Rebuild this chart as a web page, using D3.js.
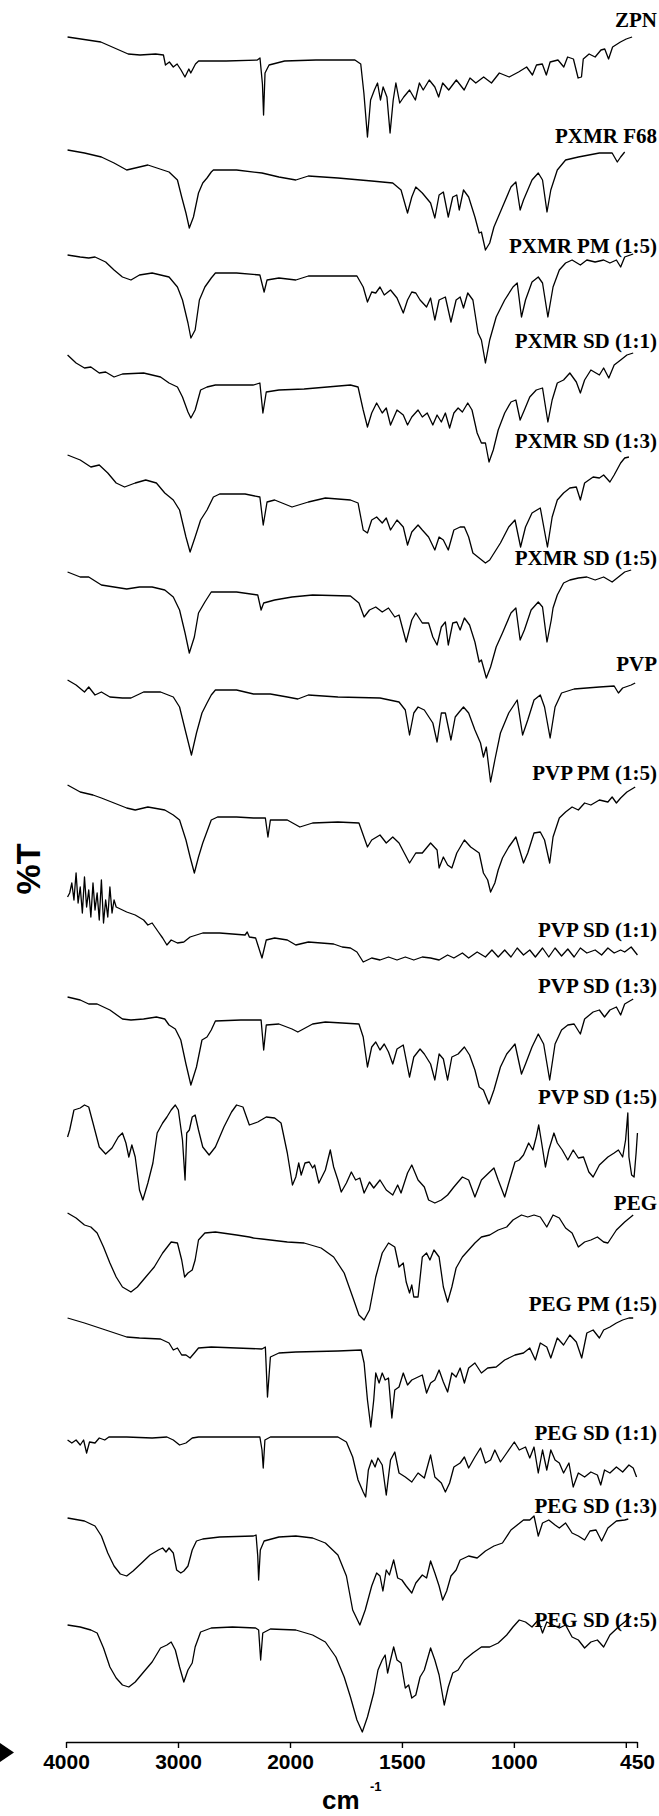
<!DOCTYPE html>
<html>
<head>
<meta charset="utf-8">
<script src="https://cdn.jsdelivr.net/npm/d3@7"></script>
<style>
  body { margin: 0; background: #fff; }
  svg { display: block; }
</style>
</head>
<body>
<script>
// FTIR spectra, stacked. each series: [wavenumber (cm-1), relative %T]
var zpn = [[3986,0],[3689,-5],[3445,-17],[3339,-18],[3200,-17],[3130,-18],[3112,-28],[3077,-25],[3042,-30],[3008,-27],[2973,-33],[2938,-40],[2903,-32],[2886,-36],[2844,-27],[2816,-24],[2571,-24],[2292,-23],[2268,-21],[2246,-47],[2236,-78],[2223,-36],[2187,-28],[2048,-24],[1884,-23],[1710,-23],[1684,-27],[1670,-56],[1654,-100],[1640,-63],[1623,-53],[1609,-46],[1596,-63],[1584,-50],[1567,-60],[1553,-96],[1539,-63],[1527,-46],[1510,-66],[1492,-60],[1466,-53],[1440,-63],[1422,-46],[1405,-53],[1378,-43],[1353,-50],[1336,-60],[1318,-46],[1291,-53],[1257,-43],[1222,-53],[1196,-41],[1170,-46],[1135,-40],[1100,-46],[1065,-36],[1021,-40],[979,-35],[943,-30],[917,-38],[899,-28],[873,-27],[855,-38],[838,-25],[803,-23],[777,-30],[760,-20],[734,-22],[713,-41],[698,-40],[690,-22],[664,-17],[637,-20],[611,-13],[594,-12],[577,-22],[559,-10],[524,-5],[498,-2],[472,0]];

var pxmrF68 = [[3986,0],[3835,-3],[3684,-7],[3571,-13],[3458,-20],[3382,-18],[3269,-15],[3080,-22],[3005,-30],[2967,-47],[2929,-63],[2899,-78],[2862,-67],[2817,-43],[2779,-33],[2741,-28],[2703,-22],[2684,-20],[2477,-20],[2250,-23],[2099,-27],[1974,-30],[1918,-26],[1786,-28],[1635,-31],[1541,-33],[1504,-40],[1475,-63],[1456,-47],[1438,-37],[1409,-43],[1372,-53],[1353,-68],[1334,-45],[1315,-42],[1293,-67],[1273,-47],[1255,-45],[1244,-60],[1225,-40],[1202,-47],[1174,-67],[1155,-83],[1145,-82],[1127,-100],[1108,-93],[1089,-77],[1051,-57],[1013,-37],[991,-32],[972,-60],[957,-50],[919,-30],[891,-23],[872,-30],[852,-62],[835,-40],[806,-20],[769,-10],[712,-7],[618,-3],[561,-3],[538,-12],[523,-7],[505,-2]];

var pxmrPM15 = [[3986,0],[3873,-2],[3797,-3],[3741,-2],[3646,-7],[3571,-15],[3496,-22],[3420,-25],[3344,-20],[3231,-18],[3080,-22],[3005,-32],[2960,-45],[2911,-68],[2885,-83],[2847,-75],[2809,-45],[2760,-32],[2703,-23],[2666,-18],[2477,-18],[2269,-20],[2231,-37],[2205,-25],[2099,-23],[1974,-25],[1918,-21],[1701,-21],[1673,-32],[1654,-47],[1635,-37],[1617,-38],[1598,-32],[1579,-40],[1551,-35],[1522,-43],[1494,-58],[1475,-45],[1456,-37],[1438,-38],[1419,-45],[1390,-52],[1372,-43],[1353,-65],[1334,-45],[1306,-42],[1281,-67],[1258,-45],[1240,-42],[1225,-53],[1206,-38],[1183,-45],[1160,-78],[1145,-85],[1127,-108],[1108,-85],[1079,-62],[1041,-45],[1004,-32],[985,-28],[966,-62],[948,-45],[919,-27],[891,-22],[872,-28],[848,-62],[825,-32],[797,-15],[769,-8],[740,-5],[703,-10],[674,-5],[637,-7],[599,-5],[571,-8],[542,-5],[523,-12],[505,-2],[467,1]];

var pxmrSD11 = [[3986,0],[3910,-8],[3835,-13],[3778,-12],[3703,-18],[3646,-17],[3571,-22],[3496,-19],[3307,-18],[3156,-22],[3080,-28],[3005,-32],[2960,-42],[2911,-57],[2885,-63],[2847,-55],[2798,-35],[2741,-32],[2666,-30],[2326,-30],[2269,-28],[2242,-58],[2212,-37],[2099,-35],[1937,-34],[1730,-30],[1696,-32],[1673,-55],[1654,-72],[1635,-58],[1613,-48],[1588,-58],[1570,-53],[1551,-70],[1522,-55],[1494,-60],[1475,-70],[1456,-62],[1428,-55],[1409,-62],[1387,-58],[1362,-70],[1343,-60],[1324,-67],[1306,-58],[1287,-73],[1268,-58],[1249,-53],[1230,-57],[1206,-48],[1187,-55],[1164,-78],[1145,-88],[1127,-88],[1111,-107],[1092,-95],[1070,-75],[1041,-58],[1013,-47],[991,-45],[972,-65],[953,-55],[929,-42],[900,-35],[872,-33],[848,-67],[829,-45],[806,-28],[778,-25],[750,-18],[721,-27],[703,-38],[684,-25],[656,-15],[618,-20],[599,-13],[576,-23],[552,-10],[523,-5],[495,0],[467,2]];

var pxmrSD13 = [[3986,0],[3873,-5],[3778,-12],[3703,-10],[3627,-18],[3552,-28],[3477,-32],[3382,-28],[3288,-25],[3193,-28],[3118,-38],[3042,-45],[2986,-55],[2929,-82],[2892,-97],[2847,-82],[2798,-65],[2741,-55],[2684,-42],[2628,-39],[2401,-39],[2269,-42],[2239,-70],[2205,-47],[2137,-45],[1991,-52],[1918,-47],[1842,-43],[1730,-45],[1696,-48],[1673,-75],[1654,-78],[1635,-65],[1613,-62],[1588,-68],[1570,-63],[1551,-75],[1522,-65],[1494,-72],[1475,-90],[1456,-77],[1428,-70],[1409,-75],[1381,-82],[1353,-95],[1334,-82],[1315,-85],[1293,-95],[1268,-75],[1240,-72],[1221,-72],[1202,-82],[1183,-98],[1155,-103],[1127,-108],[1108,-105],[1060,-88],[1023,-72],[995,-65],[970,-92],[948,-72],[919,-58],[882,-53],[850,-92],[829,-62],[806,-45],[778,-38],[750,-33],[721,-32],[703,-45],[684,-28],[646,-22],[618,-23],[599,-20],[571,-27],[552,-20],[523,-8],[505,-3],[486,-2]];

var pxmrSD15 = [[3986,0],[3873,-5],[3797,-5],[3684,-13],[3571,-15],[3458,-17],[3344,-15],[3231,-15],[3118,-18],[3042,-25],[2986,-38],[2937,-61],[2899,-81],[2854,-65],[2817,-41],[2760,-30],[2703,-20],[2477,-20],[2288,-23],[2258,-38],[2235,-31],[2137,-28],[1991,-25],[1899,-23],[1730,-24],[1692,-31],[1669,-45],[1645,-38],[1617,-35],[1588,-40],[1560,-36],[1532,-45],[1513,-43],[1481,-70],[1456,-48],[1438,-41],[1409,-51],[1381,-51],[1362,-65],[1343,-73],[1324,-55],[1306,-50],[1293,-73],[1273,-51],[1255,-50],[1240,-58],[1221,-46],[1198,-53],[1174,-70],[1155,-90],[1145,-88],[1123,-106],[1104,-95],[1079,-75],[1051,-61],[1013,-41],[991,-36],[972,-68],[953,-58],[923,-38],[891,-30],[872,-35],[852,-70],[833,-48],[825,-36],[806,-23],[778,-11],[750,-8],[712,-6],[674,-5],[637,-8],[599,-5],[561,-10],[533,-5],[505,0],[476,2]];

var pvp = [[3986,0],[3910,-5],[3835,-12],[3797,-7],[3741,-15],[3684,-12],[3608,-17],[3496,-18],[3420,-18],[3307,-12],[3156,-12],[3042,-17],[2986,-27],[2929,-53],[2880,-75],[2835,-53],[2786,-33],[2741,-23],[2703,-15],[2666,-10],[2477,-10],[2326,-14],[2175,-14],[2024,-17],[1965,-19],[1918,-15],[1786,-17],[1598,-18],[1513,-22],[1485,-30],[1466,-55],[1447,-33],[1428,-27],[1400,-30],[1362,-43],[1343,-62],[1324,-33],[1306,-33],[1281,-60],[1262,-37],[1244,-32],[1225,-27],[1202,-33],[1174,-50],[1149,-63],[1136,-77],[1123,-67],[1104,-102],[1085,-80],[1060,-53],[1023,-33],[985,-20],[961,-55],[938,-40],[910,-20],[882,-15],[863,-27],[838,-58],[816,-27],[787,-13],[731,-9],[618,-7],[552,-6],[533,-13],[514,-8],[476,-5],[458,-3]];

var pvpPM15 = [[3986,0],[3873,-7],[3759,-10],[3684,-13],[3571,-18],[3458,-23],[3382,-25],[3269,-22],[3118,-25],[3042,-30],[2986,-35],[2929,-55],[2892,-72],[2854,-88],[2817,-72],[2779,-58],[2703,-35],[2647,-32],[2477,-32],[2326,-33],[2220,-33],[2197,-52],[2175,-35],[2024,-35],[1956,-42],[1899,-38],[1786,-37],[1692,-38],[1654,-62],[1635,-55],[1598,-50],[1570,-58],[1541,-52],[1513,-58],[1466,-78],[1438,-68],[1409,-68],[1372,-58],[1343,-65],[1334,-83],[1315,-72],[1296,-80],[1277,-83],[1255,-68],[1221,-55],[1193,-62],[1155,-68],[1136,-88],[1117,-95],[1104,-107],[1085,-98],[1070,-85],[1051,-73],[1023,-62],[991,-52],[957,-78],[938,-68],[910,-48],[882,-47],[863,-55],[840,-78],[825,-52],[797,-33],[769,-27],[740,-22],[712,-25],[684,-18],[656,-20],[618,-15],[580,-17],[561,-12],[542,-18],[523,-13],[495,-7],[458,-2]];

var pvpSD11 = [[3986,0],[3967,4],[3948,14],[3929,-3],[3910,24],[3892,-6],[3873,10],[3854,-16],[3835,20],[3816,-10],[3797,7],[3778,-20],[3759,14],[3741,-13],[3722,4],[3703,-23],[3684,17],[3665,-26],[3646,-3],[3627,-20],[3608,10],[3589,-16],[3571,-3],[3552,-10],[3533,-11],[3458,-15],[3382,-18],[3307,-23],[3269,-28],[3231,-26],[3175,-35],[3137,-41],[3099,-48],[3061,-43],[3005,-46],[2948,-45],[2892,-40],[2779,-36],[2628,-36],[2401,-38],[2382,-35],[2363,-40],[2307,-41],[2250,-61],[2212,-43],[2137,-41],[2024,-43],[1974,-48],[1918,-45],[1861,-46],[1805,-47],[1767,-50],[1730,-51],[1701,-55],[1673,-65],[1635,-61],[1598,-63],[1560,-60],[1522,-63],[1485,-60],[1447,-63],[1409,-60],[1372,-61],[1334,-63],[1296,-58],[1268,-61],[1230,-56],[1202,-61],[1164,-55],[1127,-60],[1098,-53],[1070,-60],[1041,-53],[1013,-60],[985,-51],[957,-58],[929,-53],[904,-60],[872,-51],[844,-60],[816,-51],[787,-59],[759,-52],[731,-60],[703,-51],[674,-56],[637,-53],[608,-58],[580,-51],[552,-56],[523,-53],[505,-55],[476,-50],[448,-58]];

var pvpSD13 = [[3986,0],[3873,-3],[3797,-7],[3722,-7],[3608,-13],[3496,-22],[3420,-23],[3307,-22],[3193,-20],[3118,-22],[3080,-28],[3024,-32],[2975,-43],[2929,-67],[2885,-88],[2835,-70],[2786,-43],[2741,-40],[2703,-33],[2666,-24],[2439,-23],[2258,-23],[2235,-53],[2212,-28],[2099,-27],[1991,-32],[1965,-35],[1899,-27],[1842,-25],[1692,-27],[1673,-40],[1654,-70],[1635,-50],[1617,-45],[1598,-53],[1579,-47],[1560,-55],[1541,-67],[1522,-52],[1494,-48],[1466,-80],[1447,-60],[1419,-52],[1400,-57],[1372,-67],[1353,-83],[1334,-57],[1315,-62],[1296,-83],[1277,-60],[1249,-57],[1221,-50],[1198,-58],[1174,-73],[1155,-90],[1136,-93],[1111,-107],[1089,-93],[1060,-70],[1032,-57],[995,-47],[966,-77],[948,-67],[919,-50],[891,-37],[867,-47],[840,-83],[816,-47],[787,-33],[759,-28],[731,-27],[703,-37],[684,-22],[646,-15],[618,-13],[595,-20],[571,-13],[542,-10],[523,-18],[505,-7],[467,-2]];

var pvpSD15 = [[3986,0],[3967,7],[3929,27],[3873,29],[3835,32],[3797,30],[3759,14],[3703,-10],[3646,-17],[3589,-11],[3533,0],[3496,4],[3465,-6],[3439,-20],[3412,-8],[3382,-20],[3344,-53],[3314,-63],[3269,-46],[3224,-26],[3186,4],[3137,14],[3099,20],[3061,27],[3024,32],[2997,27],[2960,-3],[2937,-43],[2922,4],[2899,7],[2873,20],[2847,22],[2817,7],[2779,-10],[2722,-18],[2666,-10],[2590,10],[2522,25],[2477,32],[2420,30],[2363,12],[2288,15],[2212,20],[2137,19],[2080,14],[2024,-16],[1989,-48],[1974,-40],[1961,-26],[1950,-38],[1933,-26],[1914,-25],[1899,-31],[1890,-28],[1871,-46],[1842,-33],[1820,-13],[1805,-30],[1786,-43],[1771,-55],[1748,-46],[1726,-35],[1707,-43],[1688,-41],[1669,-56],[1645,-45],[1626,-51],[1598,-43],[1570,-53],[1541,-58],[1519,-48],[1504,-56],[1475,-36],[1456,-28],[1428,-43],[1400,-50],[1381,-63],[1353,-66],[1324,-63],[1296,-58],[1268,-50],[1230,-40],[1202,-43],[1174,-60],[1145,-43],[1108,-35],[1089,-31],[1070,-43],[1041,-60],[1023,-46],[995,-25],[976,-23],[957,-18],[934,-6],[915,-13],[900,0],[889,12],[878,-3],[859,-30],[844,-13],[821,4],[806,-6],[784,-13],[759,-23],[735,-13],[712,-21],[689,-20],[665,-35],[646,-40],[618,-28],[580,-20],[552,-16],[533,-13],[514,-20],[501,-3],[491,24],[486,-20],[474,-38],[463,-40],[454,-16],[448,4]];

var peg = [[3986,0],[3910,-5],[3835,-12],[3778,-14],[3722,-20],[3665,-34],[3608,-50],[3552,-64],[3496,-74],[3420,-79],[3363,-74],[3288,-64],[3212,-54],[3137,-40],[3061,-29],[3005,-30],[2967,-47],[2941,-64],[2911,-60],[2873,-57],[2847,-47],[2817,-27],[2760,-20],[2666,-19],[2477,-22],[2363,-24],[2326,-25],[2250,-26],[2024,-29],[1937,-30],[1861,-35],[1805,-44],[1758,-60],[1720,-84],[1692,-102],[1669,-107],[1645,-97],[1617,-64],[1588,-40],[1560,-30],[1532,-34],[1513,-54],[1494,-50],[1481,-69],[1466,-80],[1456,-72],[1447,-84],[1428,-84],[1409,-44],[1390,-40],[1375,-47],[1357,-37],[1334,-44],[1315,-74],[1296,-89],[1277,-74],[1258,-55],[1230,-44],[1202,-37],[1174,-30],[1145,-24],[1108,-22],[1070,-17],[1032,-14],[1004,-7],[966,-2],[938,-4],[910,-2],[882,-4],[853,-14],[825,-2],[797,-5],[769,-15],[740,-20],[712,-34],[684,-29],[656,-27],[627,-24],[599,-29],[580,-30],[542,-17],[505,-9],[467,-2]];

var pegPM15 = [[3986,0],[3835,-5],[3646,-12],[3458,-19],[3344,-20],[3156,-21],[3080,-25],[3042,-32],[3005,-30],[2967,-37],[2929,-37],[2892,-40],[2854,-35],[2817,-30],[2703,-29],[2477,-30],[2250,-31],[2220,-29],[2201,-79],[2175,-39],[2099,-35],[1974,-34],[1786,-33],[1682,-32],[1669,-45],[1654,-82],[1639,-109],[1626,-82],[1617,-55],[1602,-65],[1588,-55],[1575,-62],[1560,-60],[1545,-100],[1532,-72],[1513,-69],[1494,-55],[1475,-67],[1456,-62],[1428,-59],[1409,-57],[1390,-75],[1372,-65],[1353,-62],[1334,-52],[1315,-64],[1296,-74],[1277,-55],[1258,-59],[1240,-50],[1221,-65],[1202,-50],[1174,-45],[1145,-55],[1117,-50],[1079,-49],[1041,-42],[995,-37],[957,-35],[929,-30],[904,-42],[882,-25],[853,-29],[835,-40],[806,-20],[778,-27],[750,-17],[721,-24],[697,-40],[674,-15],[646,-12],[618,-20],[599,-12],[571,-9],[542,-5],[514,-2],[486,0],[467,0]];

var pegSD11 = [[3986,0],[3948,-3],[3910,0],[3873,-5],[3843,0],[3816,-13],[3790,-2],[3741,-3],[3703,2],[3654,0],[3617,3],[3458,3],[3231,2],[3099,3],[3042,0],[2986,-5],[2929,-3],[2873,2],[2817,3],[2514,3],[2269,3],[2250,-10],[2239,-28],[2224,0],[2175,3],[1974,3],[1786,3],[1748,-2],[1720,-17],[1696,-40],[1673,-52],[1662,-57],[1650,-30],[1635,-20],[1620,-27],[1607,-18],[1588,-25],[1570,-55],[1551,-20],[1532,-12],[1513,-33],[1485,-37],[1456,-42],[1428,-33],[1400,-38],[1372,-15],[1353,-37],[1324,-43],[1306,-52],[1287,-43],[1268,-27],[1240,-23],[1221,-17],[1202,-28],[1174,-17],[1149,-8],[1127,-23],[1104,-20],[1085,-10],[1060,-22],[1032,-13],[998,-2],[976,-10],[948,-7],[929,-18],[910,-7],[891,-33],[872,-10],[853,-30],[835,-10],[816,-20],[797,-23],[778,-33],[754,-23],[735,-47],[712,-33],[684,-37],[656,-32],[627,-35],[612,-45],[595,-30],[571,-33],[542,-27],[514,-32],[486,-25],[467,-28],[452,-37]];

var pegSD13 = [[3986,0],[3835,-3],[3741,-8],[3684,-18],[3627,-35],[3571,-48],[3515,-56],[3458,-58],[3401,-53],[3325,-45],[3250,-37],[3175,-32],[3137,-30],[3107,-34],[3080,-30],[3042,-35],[3012,-52],[2975,-55],[2948,-53],[2911,-48],[2873,-32],[2835,-23],[2779,-21],[2628,-19],[2326,-18],[2303,-17],[2288,-38],[2280,-62],[2265,-32],[2231,-23],[2099,-19],[1974,-18],[1899,-20],[1842,-25],[1786,-37],[1748,-58],[1720,-92],[1688,-107],[1664,-92],[1635,-68],[1613,-55],[1598,-58],[1585,-73],[1570,-52],[1556,-57],[1537,-42],[1519,-60],[1500,-62],[1481,-68],[1456,-75],[1438,-65],[1409,-57],[1390,-60],[1372,-43],[1353,-55],[1334,-68],[1318,-82],[1300,-73],[1281,-58],[1258,-52],[1240,-42],[1202,-38],[1164,-40],[1127,-33],[1089,-28],[1051,-25],[1013,-12],[985,-7],[957,-2],[929,-2],[910,2],[891,-18],[872,-5],[844,-2],[816,-7],[797,-10],[769,-5],[740,-15],[712,-18],[684,-22],[660,-13],[633,-12],[608,-23],[580,-10],[542,-3],[505,-2],[489,-1]];

var pegSD15 = [[3986,0],[3873,-2],[3778,-5],[3722,-8],[3665,-23],[3608,-42],[3552,-53],[3496,-60],[3439,-62],[3382,-57],[3307,-47],[3231,-37],[3156,-23],[3099,-20],[3061,-17],[3024,-25],[2986,-42],[2948,-57],[2911,-45],[2873,-38],[2847,-22],[2798,-7],[2703,-3],[2514,-2],[2307,-3],[2280,-5],[2262,-35],[2243,-8],[2175,-4],[1974,-5],[1899,-10],[1842,-17],[1795,-32],[1758,-52],[1730,-72],[1701,-95],[1677,-107],[1654,-92],[1626,-68],[1607,-45],[1588,-35],[1575,-30],[1564,-48],[1551,-35],[1537,-22],[1522,-35],[1504,-38],[1485,-63],[1470,-60],[1456,-73],[1438,-70],[1419,-52],[1400,-45],[1372,-23],[1353,-35],[1334,-50],[1311,-80],[1293,-62],[1273,-48],[1249,-45],[1221,-35],[1183,-28],[1145,-22],[1108,-22],[1070,-18],[1032,-10],[1004,-2],[976,5],[948,3],[919,-2],[891,5],[872,-8],[853,3],[825,0],[797,-3],[769,0],[740,-12],[712,-15],[684,-23],[656,-17],[627,-15],[599,-22],[571,-10],[533,-2],[505,3],[476,9]];

var names = ["ZPN", "PXMR F68", "PXMR PM (1:5)", "PXMR SD (1:1)", "PXMR SD (1:3)", "PXMR SD (1:5)",
             "PVP", "PVP PM (1:5)", "PVP SD (1:1)", "PVP SD (1:3)", "PVP SD (1:5)",
             "PEG", "PEG PM (1:5)", "PEG SD (1:1)", "PEG SD (1:3)", "PEG SD (1:5)"];
var series = [zpn, pxmrF68, pxmrPM15, pxmrSD11, pxmrSD13, pxmrSD15,
              pvp, pvpPM15, pvpSD11, pvpSD13, pvpSD15,
              peg, pegPM15, pegSD11, pegSD13, pegSD15];
// vertical stacking offset of each trace (arbitrary %T units)
var offsets = [1705, 1592, 1487, 1387, 1287, 1170, 1062, 957, 845, 745, 605, 529, 424, 302, 224, 117];
// label nudges (px) relative to the trace start
var labelDy = [-10, -7, -2, -7, -7, -7, -9, -5, 40, -4, -33, -3, -7, 0, -5, 2];

var tickVals = [4000, 3000, 2000, 1500, 1000, 500, 450];

var W = 659, H = 1816,
    axisY = 1742;

var svg = d3.select("body").append("svg")
    .attr("width", W)
    .attr("height", H);

svg.append("rect").attr("width", W).attr("height", H).attr("fill", "#fff");

// x axis is compressed 2:1 above 2000 cm-1
var x = d3.scaleLinear()
    .domain([4000, 2000, 450])
    .range([66, 290, 637]);

var y = d3.scaleLinear()
    .domain([0, axisY])
    .range([axisY, 0]);

var line = d3.line()
    .x(function(d){ return x(d[0]); })
    .y(function(d){ return y(d[1]); })
    .curve(d3.curveLinear);

var g = svg.selectAll("g.trace")
    .data(series)
    .enter().append("g")
    .attr("class", "trace");

g.append("path")
    .attr("d", function(d, i){
        var off = offsets[i];
        return line(d.map(function(p){ return [p[0], p[1] + off]; }));
    })
    .attr("fill", "none")
    .attr("stroke", "#000")
    .attr("stroke-width", 1.3)
    .attr("stroke-linejoin", "round");

g.append("text")
    .attr("x", 657)
    .attr("y", function(d, i){ return y(offsets[i]) + labelDy[i]; })
    .attr("text-anchor", "end")
    .style("font-family", "'Liberation Serif', 'Times New Roman', serif")
    .style("font-weight", "bold")
    .style("font-size", "21px")
    .text(function(d, i){ return names[i]; });

// bottom axis
var ax = svg.append("g")
    .attr("transform", "translate(0," + axisY + ")")
    .call(d3.axisBottom(x)
        .tickValues(tickVals)
        .tickFormat(function(d){ return d === 500 ? "" : d; })
        .tickSize(6)
        .tickSizeOuter(0)
        .tickPadding(6));

ax.select(".domain").attr("stroke", "#000").attr("stroke-width", 1.6);
ax.selectAll(".tick line").attr("stroke", "#000").attr("stroke-width", 1.4);
ax.selectAll(".tick text")
    .attr("fill", "#000")
    .style("font-family", "'Liberation Sans', Arial, sans-serif")
    .style("font-weight", "bold")
    .style("font-size", "21px");

// little arrow head at the left end
svg.append("path")
    .attr("d", "M0," + (axisY + 1) + " L14," + (axisY + 10.5) + " L0," + (axisY + 20) + " Z")
    .attr("fill", "#000");

// axis titles
svg.append("text")
    .attr("x", 322)
    .attr("y", 1809)
    .style("font-family", "'Liberation Sans', Arial, sans-serif")
    .style("font-weight", "bold")
    .style("font-size", "26px")
    .text("cm");
svg.append("text")
    .attr("x", 370)
    .attr("y", 1791)
    .style("font-family", "'Liberation Sans', Arial, sans-serif")
    .style("font-weight", "bold")
    .style("font-size", "13px")
    .text("-1");

svg.append("text")
    .attr("transform", "translate(40,869) rotate(-90)")
    .attr("text-anchor", "middle")
    .style("font-family", "'Liberation Sans', Arial, sans-serif")
    .style("font-weight", "bold")
    .style("font-size", "34px")
    .text("%T");
</script>
</body>
</html>
